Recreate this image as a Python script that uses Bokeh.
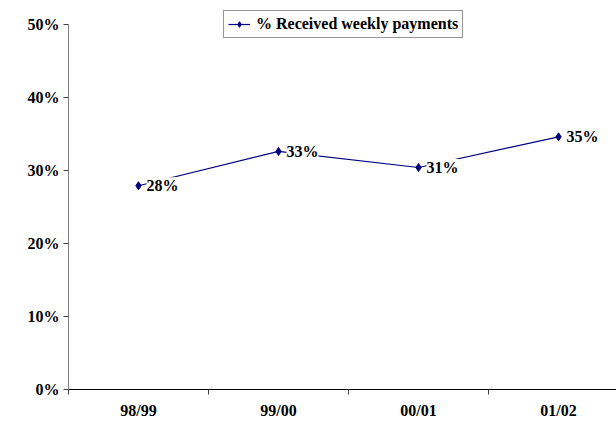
from bokeh.plotting import figure
from bokeh.models import (ColumnDataSource, FixedTicker, Range1d,
                          NumeralTickFormatter, Legend, LegendItem, LinearAxis)
from bokeh.core.properties import value
from bokeh.embed import file_html
from bokeh.resources import INLINE

categories = ["98/99", "99/00", "00/01", "01/02"]
received_weekly = [0.279, 0.326, 0.304, 0.346]
point_labels = ["28%", "33%", "31%", "35%"]
y_ticks = [0.0, 0.1, 0.2, 0.3, 0.4, 0.5]
series_name = "% Received weekly payments"

FONT = "Liberation Serif"
xs = [i + 0.5 for i in range(len(categories))]
bounds_x = [float(i) for i in range(len(categories) + 1)]
src = ColumnDataSource(dict(x=xs, y=received_weekly, lab=point_labels))

p = figure(width=616, height=423, output_backend="svg", toolbar_location=None,
           x_range=Range1d(0, 3.914), y_range=Range1d(0, 0.519),
           min_border_left=68, min_border_right=0, min_border_top=10,
           min_border_bottom=34, x_axis_type=None)
p.outline_line_color = None
p.grid.visible = False
p.background_fill_color = "white"
p.border_fill_color = "white"

# y axis
ya = p.yaxis[0]
ya.ticker = FixedTicker(ticks=y_ticks)
ya.formatter = NumeralTickFormatter(format="0%")
ya.bounds = (0, 0.5)
ya.axis_line_color = "#808080"
ya.major_tick_line_color = "#404040"
ya.major_tick_out = 5
ya.major_tick_in = 0
ya.minor_tick_line_color = None
ya.major_label_standoff = 4
ya.major_label_text_font = FONT
ya.major_label_text_font_style = "bold"
ya.major_label_text_font_size = "16px"
ya.major_label_text_color = "black"

# x axis: labels at category centres, tick marks at category boundaries
xa = LinearAxis(ticker=FixedTicker(ticks=xs, minor_ticks=bounds_x),
                major_label_overrides={x: c for x, c in zip(xs, categories)})
xa.axis_line_color = "black"
xa.major_tick_line_color = None
xa.major_tick_out = 5
xa.major_tick_in = 0
xa.minor_tick_line_color = "#404040"
xa.minor_tick_out = 5
xa.minor_tick_in = 0
xa.major_label_standoff = 7
xa.major_label_text_font = FONT
xa.major_label_text_font_style = "bold"
xa.major_label_text_font_size = "16px"
xa.major_label_text_color = "black"
p.add_layout(xa, "below")

line = p.line("x", "y", source=src, line_color="#000080", line_width=1.2)
p.text("x", "y", text="lab", source=src, x_offset=8, text_baseline="middle",
       text_align="left", text_font=value(FONT), text_font_style="bold",
       text_font_size="16px", text_color="black",
       background_fill_color="white")
pts = p.scatter("x", "y", source=src, marker="diamond", size=8,
                fill_color="#000080", line_color="#000080")

legend = Legend(items=[LegendItem(label=series_name, renderers=[line, pts])],
                location=(155, 351), orientation="horizontal")
legend.label_text_font = FONT
legend.label_text_font_style = "bold"
legend.label_text_font_size = "16px"
legend.label_text_color = "black"
legend.border_line_color = "#303030"
legend.border_line_width = 1
legend.padding = 4
legend.margin = 0
legend.spacing = 0
legend.glyph_width = 22
legend.glyph_height = 14
legend.label_standoff = 6
legend.label_height = 18
legend.background_fill_alpha = 1
p.add_layout(legend, "center")

open("out.html", "w").write(file_html(p, INLINE))
